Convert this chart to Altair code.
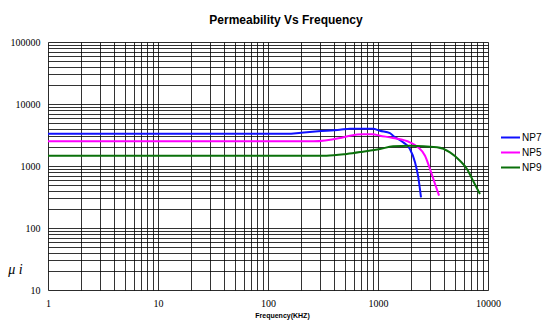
import altair as alt
import pandas as pd

# Data
np7_freq = [1, 150, 200, 285, 450, 556, 700, 900, 1040, 1285, 1370, 1690, 1950, 2170, 2310, 2460]
np7_mu = [3300, 3300, 3450, 3630, 3850, 4000, 4000, 4000, 3700, 3400, 3085, 2410, 1880, 1150, 700, 312]

np5_freq = [1, 260, 450, 556, 730, 900, 1040, 1370, 1950, 2310, 2675, 2970, 3300, 3590]
np5_mu = [2500, 2500, 2830, 3085, 3245, 3245, 3085, 2830, 2410, 2005, 1466, 894, 513, 332]

np9_freq = [1, 340, 520, 730, 1040, 1370, 1950, 3440, 4515, 5560, 6440, 7310, 8460]
np9_mu = [1466, 1466, 1563, 1702, 1880, 2080, 2125, 2005, 1663, 1218, 894, 580, 353]

series_names = ["NP7", "NP5", "NP9"]
series_colors = ["#1010ff", "#ff00ff", "#0a700a"]

x_grid = [m * 10 ** e for e in range(0, 4) for m in range(1, 10)] + [10000]
y_grid = [m * 10 ** e for e in range(1, 5) for m in range(1, 10)] + [100000]

rows = []
for name, fs, ms in zip(series_names, [np7_freq, np5_freq, np9_freq], [np7_mu, np5_mu, np9_mu]):
    for i, (f, m) in enumerate(zip(fs, ms)):
        rows.append({"series": name, "freq": f, "mu": m, "order": i})
df = pd.DataFrame(rows)

label_expr = ("abs(log(datum.value)/LN10 - round(log(datum.value)/LN10)) < 0.001 "
              "? format(datum.value, 'd') : ''")

chart = alt.Chart(df).mark_line(strokeWidth=2, interpolate="monotone").encode(
    x=alt.X("freq:Q",
            scale=alt.Scale(type="log", domain=[1, 10000], nice=False),
            axis=alt.Axis(values=x_grid, labelExpr=label_expr, ticks=False, domain=False,
                          grid=True, gridColor="#000", gridOpacity=0.8, gridWidth=1,
                          labelFont="Liberation Serif", labelFontSize=10, labelColor="#000",
                          labelPadding=8, labelFlush=False, labelOverlap=False,
                          title="Frequency(KHZ)", titleFont="Liberation Sans",
                          titleFontSize=7, titleFontWeight="bold", titleColor="#000",
                          titleX=234, titleY=21, titleAnchor="middle")),
    y=alt.Y("mu:Q",
            scale=alt.Scale(type="log", domain=[10, 100000], nice=False),
            axis=alt.Axis(values=y_grid, labelExpr=label_expr, ticks=False, domain=False,
                          grid=True, gridColor="#000", gridOpacity=0.8, gridWidth=1,
                          labelFont="Liberation Serif", labelFontSize=10, labelColor="#000",
                          labelPadding=8, labelFlush=False, labelOverlap=False,
                          title="μ i", titleAngle=0, titleFont="Liberation Serif",
                          titleFontSize=14, titleFontWeight="normal", titleFontStyle="italic",
                          titleColor="#000",
                          titleX=-33, titleY=234, titleAlign="center")),
    color=alt.Color("series:N",
                    scale=alt.Scale(domain=series_names, range=series_colors),
                    legend=alt.Legend(title=None, orient="none", legendX=452, legendY=88,
                                      symbolType="stroke", symbolSize=361, symbolStrokeWidth=2,
                                      clipHeight=15,
                                      labelFont="Liberation Sans", labelFontSize=10,
                                      labelColor="#000", labelOffset=1, rowPadding=0)),
    order="order:Q",
).properties(
    width=440,
    height=248,
    title=alt.TitleParams("Permeability Vs Frequency", font="Liberation Sans", fontSize=12,
                          fontWeight="bold", color="#000", dx=18, offset=10),
    autosize=alt.AutoSizeParams(type="none"),
    padding={"left": 48, "top": 42, "right": 62, "bottom": 40},
).configure_view(stroke="#000", strokeWidth=1).configure(background="white")

chart.save("out.html", embed_options={"renderer": "svg", "actions": False})
